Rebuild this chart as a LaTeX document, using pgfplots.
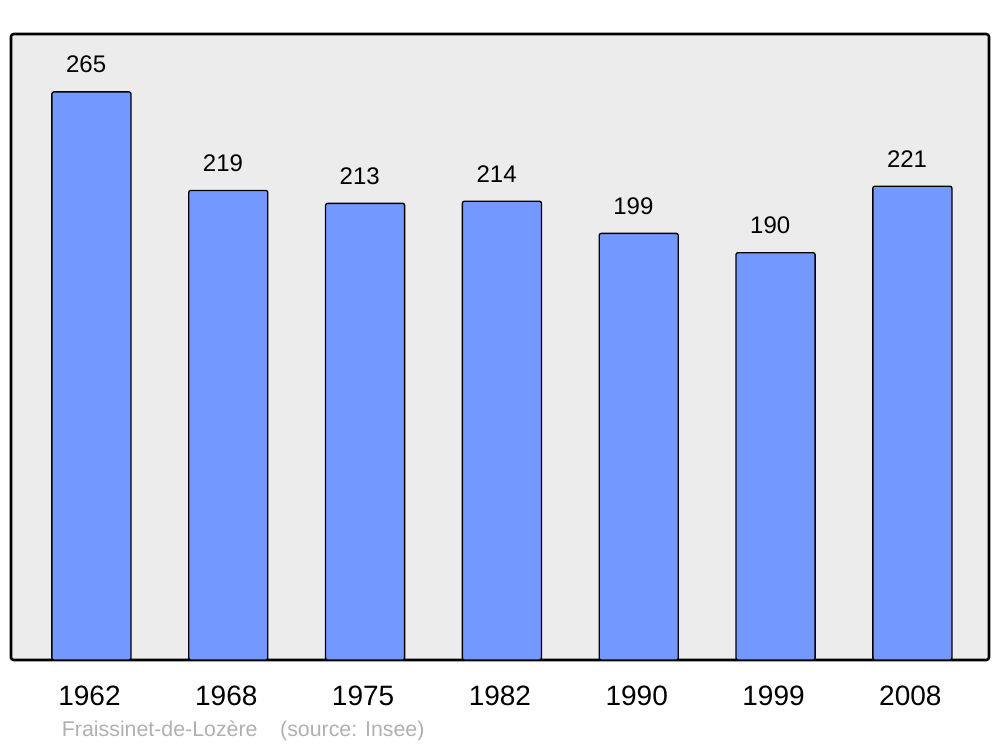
\documentclass[border=0pt]{standalone}
\usepackage{pgfplots}
\pgfplotsset{compat=1.18}
\usepackage{fontspec}
\setmainfont{Liberation Sans}
\definecolor{bgc}{HTML}{ECECEC}
\definecolor{barc}{HTML}{7399FF}
\definecolor{srcc}{HTML}{B0B0B0}
\begin{document}
\begin{tikzpicture}
\useasboundingbox (-8.25pt,-65.25pt) rectangle (741.75pt,495pt);
\begin{axis}[
  at={(0,0)}, anchor=south west,
  scale only axis, width=733.5pt, height=469.5pt,
  xmin=-0.588, xmax=6.56, ymin=0, ymax=292,
  /pgf/number format/assume math mode=true,
  axis background/.style={fill=bgc},
  axis line style={line width=1.9pt, rounded corners=2pt},
  ybar, bar width=0.578,
  ytick=\empty,
  xtick={0,1,2,3,4,5,6},
  xticklabels={1962,1968,1975,1982,1990,1999,2008},
  major tick length=0pt,
  xticklabel style={font=\fontsize{21pt}{21pt}\selectfont, anchor=base, yshift=-34.3pt, xshift=-1.5pt, inner sep=0pt},
  nodes near coords,
  every node near coord/.append style={font=\fontsize{18pt}{18pt}\selectfont, anchor=base, yshift=14.25pt, xshift=-4pt, inner sep=0pt, text=black},
  clip=false,
]
\addplot[fill=barc, draw=black, line width=1pt, rounded corners=1.5pt] coordinates {(0,265) (1,219) (2,213) (3,214) (4,199) (5,190) (6,221)};
\end{axis}
\node[anchor=base west, inner sep=0pt, text=srcc, font=\fontsize{16pt}{16pt}\selectfont] at (38pt,-57.5pt) {Fraissinet-de-Lozère\hspace{17pt}(source: Insee)};
\end{tikzpicture}
\end{document}
